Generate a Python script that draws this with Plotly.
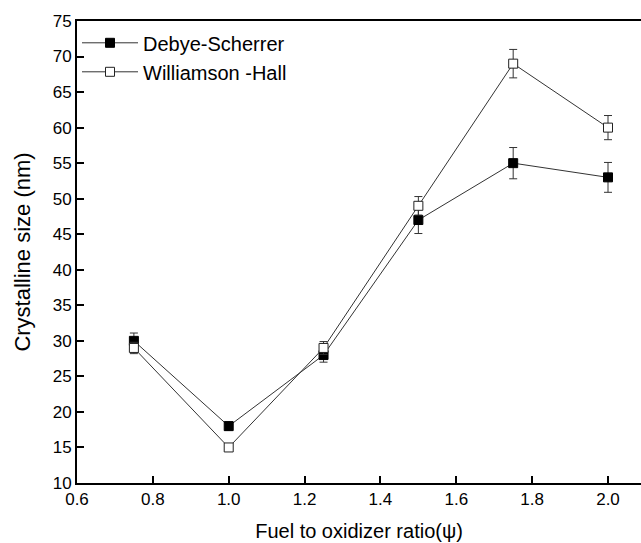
import plotly.graph_objects as go

ratio = [0.75, 1.0, 1.25, 1.5, 1.75, 2.0]
debye_scherrer = [30, 18, 28, 47, 55, 53]
debye_scherrer_err = [1.1, 0.6, 1.0, 1.9, 2.2, 2.1]
williamson_hall = [29, 15, 29, 49, 69, 60]
williamson_hall_err = [0.8, 0.3, 0.9, 1.3, 2.0, 1.7]

x_ticks = [0.6, 0.8, 1.0, 1.2, 1.4, 1.6, 1.8, 2.0]
x_tick_labels = ["0.6", "0.8", "1.0", "1.2", "1.4", "1.6", "1.8", "2.0"]
y_ticks = [10, 15, 20, 25, 30, 35, 40, 45, 50, 55, 60, 65, 70, 75]

FONT = "Liberation Sans, Arial, sans-serif"

fig = go.Figure()
fig.add_trace(go.Scatter(
    x=ratio, y=debye_scherrer, name="Debye-Scherrer", mode="lines+markers",
    line=dict(color="#333333", width=1),
    marker=dict(symbol="square", size=9, color="black", line=dict(color="black", width=1)),
    error_y=dict(type="data", array=debye_scherrer_err, visible=True,
                 color="#333333", thickness=1, width=4),
))
fig.add_trace(go.Scatter(
    x=ratio, y=williamson_hall, name="Williamson -Hall", mode="lines+markers",
    line=dict(color="#333333", width=1),
    marker=dict(symbol="square", size=9, color="white", line=dict(color="#222222", width=1)),
    error_y=dict(type="data", array=williamson_hall_err, visible=True,
                 color="#333333", thickness=1, width=4),
))

fig.update_layout(
    width=641, height=543,
    margin=dict(l=77, r=0, t=21, b=60),
    paper_bgcolor="white", plot_bgcolor="white",
    font=dict(family=FONT, color="black"),
    showlegend=True,
    legend=dict(x=0.0, y=0.995, xanchor="left", yanchor="top",
                bgcolor="rgba(0,0,0,0)", font=dict(size=20, family=FONT),
                tracegroupgap=0, itemwidth=56),
)
fig.update_xaxes(
    range=[0.6, 2.087], tickvals=x_ticks, ticktext=x_tick_labels,
    showgrid=False, zeroline=False,
    showline=True, linecolor="black", linewidth=2, mirror=True,
    ticks="inside", ticklen=7, tickwidth=1.5, tickcolor="black",
    tickfont=dict(size=17, family=FONT),
    title=dict(text="Fuel to oxidizer ratio(ψ)", font=dict(size=20, family=FONT), standoff=16),
)
fig.update_yaxes(
    range=[10, 75], tickvals=y_ticks,
    showgrid=False, zeroline=False,
    showline=True, linecolor="black", linewidth=2, mirror=False,
    ticks="inside", ticklen=7, tickwidth=1.5, tickcolor="black",
    tickfont=dict(size=17, family=FONT),
    title=dict(text="Crystalline size (nm)", font=dict(size=22, family=FONT), standoff=16),
)

fig.write_html(
    "out.html",
    config={"displayModeBar": False},
    post_script="document.body.style.margin='0';document.body.style.overflow='hidden';",
)
